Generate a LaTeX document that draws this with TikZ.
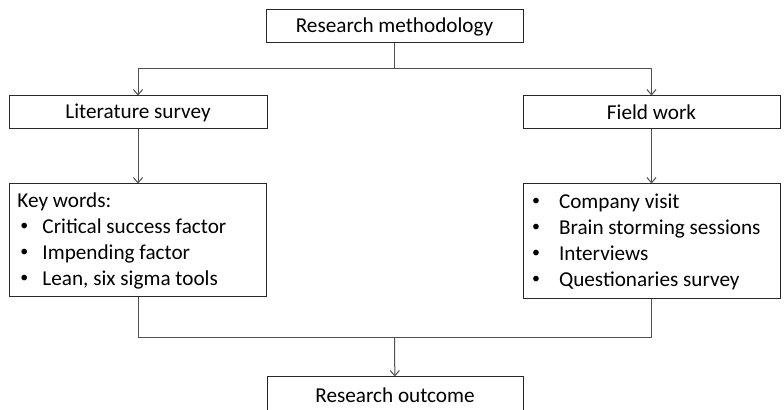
\documentclass[tikz,border=0pt]{standalone}
\usepackage{fontspec}
\setmainfont{Carlito}
\usepackage{tikz}
\usetikzlibrary{arrows.meta,positioning}
\definecolor{myline}{RGB}{80,80,80}
\definecolor{mybox}{RGB}{40,40,40}
\newcommand{\bul}[1]{\makebox[#1][l]{\raisebox{0.25ex}{\scalebox{0.75}{\textbullet}}}}

\begin{document}
\begin{tikzpicture}[x=0.5pt, y=-0.5pt, font=\fontsize{10.6}{13}\selectfont]
    \tikzstyle{b}=[draw=mybox, line width=0.5pt, minimum width=128.5pt, minimum height=16.5pt, inner sep=2pt, align=center]
    \tikzstyle{lst}=[b, text width=120.5pt, align=flush left, inner sep=4pt]
    \tikzstyle{conn}=[draw=myline, line width=0.5pt]
    \tikzstyle{arr}=[conn, -{Straight Barb[length=2.6pt, width=4.6pt]}]
    \useasboundingbox (0,0) rectangle (784,410);
    \node[b] (meth) at (394.5,26.5) {Research methodology};
    \node[b, minimum width=129pt] (lit) at (138,112.5) {Literature survey};
    \node[b] (field) at (651.5,112.5) {Field work};
    \node[lst, minimum height=56.5pt, below=27pt of lit] (keys)
      {Key words:\\
       \hspace*{1.5pt}\bul{11pt}Critical success factor\\
       \hspace*{1.5pt}\bul{11pt}Impending factor\\
       \hspace*{1.5pt}\bul{11pt}Lean, six sigma tools};
    \node[lst, minimum height=57.5pt, below=27pt of field] (tasks)
      {\hspace*{0.5pt}\bul{13.5pt}Company visit\\
       \hspace*{0.5pt}\bul{13.5pt}Brain storming sessions\\
       \hspace*{0.5pt}\bul{13.5pt}Interviews\\
       \hspace*{0.5pt}\bul{13.5pt}Questionaries survey};
    \node[b, minimum width=128pt, minimum height=18pt] (outcome) at (395,395) {Research outcome};
    \coordinate (split) at (394.5,69);
    \coordinate (join) at (394.5,338);
    \draw[conn] (meth) -- (split);
    \draw[arr] (split) -| (lit);
    \draw[arr] (split) -| (field);
    \draw[arr] (lit) -- (keys);
    \draw[arr] (field) -- (tasks);
    \draw[conn] (keys) |- (join);
    \draw[conn] (tasks) |- (join);
    \draw[arr] (join) -- (outcome);
  \end{tikzpicture}
\end{document}
